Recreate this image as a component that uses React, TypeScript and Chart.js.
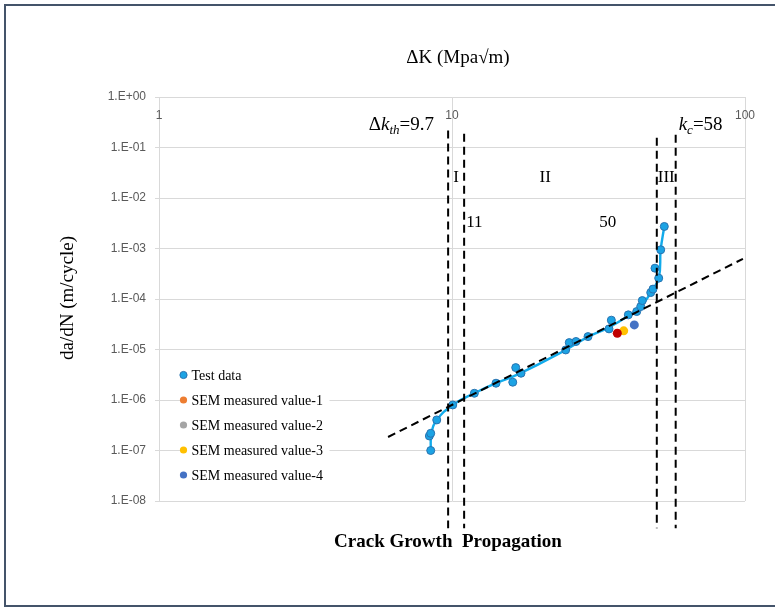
import React, { useEffect, useRef } from "react";
import { Chart, registerables } from "chart.js";

Chart.register(...registerables);

// Measured crack growth: stress intensity range ΔK (MPa√m) and growth rate da/dN (m/cycle)
const testDeltaK = [8.46, 8.37, 8.46, 8.87, 10.06, 11.92, 14.13, 16.12, 16.5, 17.2, 24.43, 25.13, 26.5, 29.12, 34.35, 34.98, 39.97, 42.7, 44.06, 44.62, 47.67, 48.53, 50.76, 49.29, 51.56, 53.04];
const testRate = [1.0e-7, 1.94e-7, 2.19e-7, 4.03e-7, 7.98e-7, 1.36e-6, 2.15e-6, 2.25e-6, 4.38e-6, 3.39e-6, 9.8e-6, 1.37e-5, 1.44e-5, 1.8e-5, 2.56e-5, 3.81e-5, 4.85e-5, 5.64e-5, 7.08e-5, 9.31e-5, 1.34e-4, 1.57e-4, 2.59e-4, 4.08e-4, 9.42e-4, 2.73e-3];

// Smoothed growth curve through the test data
const curveDeltaK = [8.46, 8.51, 8.87, 10.06, 11.92, 14.13, 16.93, 24.43, 29.12, 34.35, 39.97, 44.06, 47.67, 50.76, 51.56, 53.04];
const curveRate = [1.0e-7, 2.33e-7, 4.03e-7, 7.98e-7, 1.36e-6, 2.15e-6, 3.28e-6, 9.8e-6, 1.78e-5, 2.74e-5, 4.63e-5, 7.08e-5, 1.34e-4, 2.59e-4, 9.42e-4, 2.73e-3];

// SEM striation measurements
const sem1DeltaK = [36.66];
const sem1Rate = [2.1e-5];
const sem2DeltaK: number[] = [];
const sem2Rate: number[] = [];
const sem3DeltaK = [38.55];
const sem3Rate = [2.34e-5];
const sem4DeltaK = [41.9];
const sem4Rate = [3.07e-5];

// Paris-law line (stage II)
const parisDeltaK = [6.05, 98.4];
const parisRate = [1.85e-7, 6.25e-4];

// Stage boundaries: ΔK_th = 9.7, 11, 50, K_c = 58
const boundaryDeltaK = [9.7, 11, 50, 58];
const boundaryTop = [0.216, 0.187, 0.156, 0.179];
const boundaryBottom = 2.9e-9;

// Axis ticks
const xTicks = [1, 10, 100];
const xTickLabels = ["1", "10", "100"];
const yTicks = [1, 1e-1, 1e-2, 1e-3, 1e-4, 1e-5, 1e-6, 1e-7, 1e-8];

// Legend entries
const legendNames = ["Test data", "SEM measured value-1", "SEM measured value-2", "SEM measured value-3", "SEM measured value-4"];
const legendColors = ["#1CA3E4", "#ED7D31", "#A5A5A5", "#FFC000", "#4472C4"];

const SERIF = '"Liberation Serif", "Times New Roman", serif';
const SANS = '"Liberation Sans", Arial, sans-serif';

const pts = (xs: number[], ys: number[]) => xs.map((x, i) => ({ x, y: ys[i] }));

const fmtExp = (v: number) => {
  const e = Math.round(Math.log10(v));
  const s = e >= 0 ? "+" : "-";
  return `1.E${s}${String(Math.abs(e)).padStart(2, "0")}`;
};

type Part = { t: string; font: string; dy?: number };

function drawRich(ctx: CanvasRenderingContext2D, parts: Part[], x: number, y: number, align: "left" | "right" | "center") {
  let total = 0;
  const widths = parts.map((p) => {
    ctx.font = p.font;
    const w = ctx.measureText(p.t).width;
    total += w;
    return w;
  });
  let cx = align === "left" ? x : align === "right" ? x - total : x - total / 2;
  ctx.textAlign = "left";
  ctx.textBaseline = "alphabetic";
  parts.forEach((p, i) => {
    ctx.font = p.font;
    ctx.fillText(p.t, cx, y + (p.dy || 0));
    cx += widths[i];
  });
}

const decorPlugin = {
  id: "decor",
  afterDatasetsDraw(chart: any) {
    const ctx: CanvasRenderingContext2D = chart.ctx;
    const xs = chart.scales.x;
    const ys = chart.scales.y;
    const area = chart.chartArea;
    ctx.save();

    // x tick labels, drawn just under the top axis
    ctx.fillStyle = "#595959";
    ctx.font = `12px ${SANS}`;
    ctx.textAlign = "center";
    ctx.textBaseline = "middle";
    xTicks.forEach((v, i) => ctx.fillText(xTickLabels[i], xs.getPixelForValue(v), area.top + 19));

    // axis titles
    ctx.fillStyle = "#000";
    ctx.font = `19px ${SERIF}`;
    ctx.textAlign = "center";
    ctx.textBaseline = "middle";
    ctx.fillText("ΔK (Mpa√m)", 458, 58);
    ctx.save();
    ctx.translate(68, 298);
    ctx.rotate(-Math.PI / 2);
    ctx.fillText("da/dN (m/cycle)", 0, 0);
    ctx.restore();
    ctx.font = `bold 19px ${SERIF}`;
    ctx.fillText("Crack Growth  Propagation", 448, 542);

    // threshold / critical labels
    drawRich(
      ctx,
      [
        { t: "Δ", font: `19px ${SERIF}` },
        { t: "k", font: `italic 19px ${SERIF}` },
        { t: "th", font: `italic 13px ${SERIF}`, dy: 4 },
        { t: "=9.7", font: `19px ${SERIF}` },
      ],
      434,
      130,
      "right"
    );
    drawRich(
      ctx,
      [
        { t: "k", font: `italic 19px ${SERIF}` },
        { t: "c", font: `italic 13px ${SERIF}`, dy: 4 },
        { t: "=58", font: `19px ${SERIF}` },
      ],
      xs.getPixelForValue(boundaryDeltaK[3]) + 3,
      130,
      "left"
    );

    // stage labels
    ctx.font = `17px ${SERIF}`;
    ctx.textAlign = "center";
    ctx.textBaseline = "middle";
    const stageY = ys.getPixelForValue(0.026);
    const x0 = xs.getPixelForValue(boundaryDeltaK[0]);
    const x1 = xs.getPixelForValue(boundaryDeltaK[1]);
    const x2 = xs.getPixelForValue(boundaryDeltaK[2]);
    const x3 = xs.getPixelForValue(boundaryDeltaK[3]);
    ctx.fillText("I", (x0 + x1) / 2, stageY);
    ctx.fillText("II", xs.getPixelForValue(20.8), stageY);
    ctx.fillText("III", (x2 + x3) / 2, stageY);
    const numY = ys.getPixelForValue(3.3e-3);
    ctx.textAlign = "left";
    ctx.fillText("11", x1 + 2, numY);
    ctx.textAlign = "center";
    ctx.fillText("50", xs.getPixelForValue(34), numY);

    // legend
    const lx = 183.5;
    const ly0 = 375;
    const step = 25;
    ctx.fillStyle = "#fff";
    ctx.fillRect(lx - 2, ly0 - 12, 148, step * 4 + 24);
    legendNames.forEach((name, i) => {
      const y = ly0 + i * step;
      ctx.beginPath();
      ctx.arc(lx, y, 3.6, 0, Math.PI * 2);
      ctx.fillStyle = legendColors[i];
      ctx.fill();
      if (i === 0) {
        ctx.lineWidth = 1;
        ctx.strokeStyle = "#2A73B0";
        ctx.stroke();
      }
      ctx.fillStyle = "#000";
      ctx.font = `14px ${SERIF}`;
      ctx.textAlign = "left";
      ctx.textBaseline = "middle";
      ctx.fillText(name, lx + 8, y + 1);
    });

    ctx.restore();
  },
};

export default function App() {
  const ref = useRef<HTMLCanvasElement>(null);

  useEffect(() => {
    const canvas = ref.current;
    if (!canvas) return;

    const dash = { borderColor: "#000", borderWidth: 2, borderDash: [8, 5], pointRadius: 0, showLine: true, tension: 0, clip: false as any, order: 0 };

    const datasets: any[] = [
      {
        label: "Paris line",
        data: pts(parisDeltaK, parisRate),
        ...dash,
      },
      ...boundaryDeltaK.map((k, i) => ({
        label: `ΔK = ${k}`,
        data: [
          { x: k, y: boundaryTop[i] },
          { x: k, y: boundaryBottom },
        ],
        ...dash,
      })),
      {
        label: legendNames[1],
        data: pts(sem1DeltaK, sem1Rate),
        backgroundColor: "#C00000",
        borderWidth: 0,
        pointRadius: 4.5,
        order: 1,
      },
      {
        label: legendNames[2],
        data: pts(sem2DeltaK, sem2Rate),
        backgroundColor: legendColors[2],
        borderWidth: 0,
        pointRadius: 4.5,
        order: 1,
      },
      {
        label: legendNames[3],
        data: pts(sem3DeltaK, sem3Rate),
        backgroundColor: legendColors[3],
        borderWidth: 0,
        pointRadius: 4.5,
        order: 1,
      },
      {
        label: legendNames[4],
        data: pts(sem4DeltaK, sem4Rate),
        backgroundColor: legendColors[4],
        borderWidth: 0,
        pointRadius: 4.5,
        order: 1,
      },
      {
        label: legendNames[0],
        data: pts(testDeltaK, testRate),
        backgroundColor: legendColors[0],
        borderColor: "#2A73B0",
        borderWidth: 1,
        pointRadius: 4,
        order: 2,
      },
      {
        type: "line",
        label: "Growth curve",
        data: pts(curveDeltaK, curveRate),
        showLine: true,
        fill: false,
        borderColor: "#12ABEB",
        borderWidth: 2.4,
        pointRadius: 0,
        tension: 0.45,
        order: 3,
      },
    ];

    const chart = new Chart(canvas, {
      type: "scatter",
      data: { datasets },
      options: {
        responsive: false,
        animation: false,
        devicePixelRatio: 1,
        events: [],
        layout: { padding: { left: 0, top: 97, right: 30, bottom: 110 } },
        plugins: {
          legend: { display: false },
          tooltip: { enabled: false },
        },
        scales: {
          x: {
            type: "logarithmic",
            position: "top",
            min: 1,
            max: 100,
            afterBuildTicks: (s: any) => {
              s.ticks = xTicks.map((v) => ({ value: v }));
            },
            afterFit: (s: any) => {
              s.height = 0;
            },
            ticks: { display: false },
            grid: { color: "#D9D9D9", drawTicks: false, lineWidth: 1 },
            border: { color: "#D9D9D9" },
          },
          y: {
            type: "logarithmic",
            position: "left",
            min: 1e-8,
            max: 1,
            afterBuildTicks: (s: any) => {
              s.ticks = yTicks.map((v) => ({ value: v }));
            },
            afterFit: (s: any) => {
              s.width = 159;
            },
            ticks: {
              autoSkip: false,
              padding: 9,
              color: "#595959",
              font: { family: SANS, size: 12 },
              callback: (v: any) => fmtExp(Number(v)),
            },
            grid: { color: "#D9D9D9", tickLength: 4, lineWidth: 1 },
            border: { color: "#D9D9D9" },
          },
        },
      } as any,
      plugins: [decorPlugin],
    });

    return () => chart.destroy();
  }, []);

  return (
    <div style={{ position: "fixed", left: 0, top: 0, width: 775, height: 611, overflow: "hidden", background: "#fff" }}>
      <div
        style={{
          position: "absolute",
          left: 4,
          top: 4,
          width: 900,
          height: 603,
          borderTop: "2px solid #44546A",
          borderLeft: "2px solid #44546A",
          borderBottom: "2px solid #44546A",
          borderRight: "none",
          boxSizing: "border-box",
        }}
      />
      <canvas ref={ref} width={775} height={611} style={{ position: "absolute", left: 0, top: 0, width: 775, height: 611 }} />
    </div>
  );
}
